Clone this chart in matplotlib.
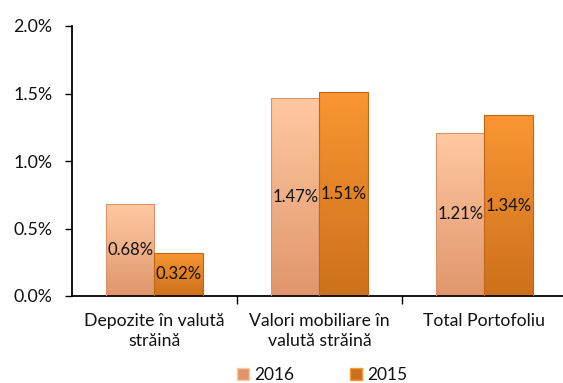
import numpy as np
import matplotlib.pyplot as plt
from matplotlib.colors import LinearSegmentedColormap
from matplotlib.patches import Patch

plt.rcParams['font.family'] = ['Lato', 'DejaVu Sans']

categories = ["Depozite în valută\nstrăină", "Valori mobiliare în\nvalută străină", "Total Portofoliu"]
series_names = ["2016", "2015"]
values_2016 = [0.68, 1.47, 1.21]
values_2015 = [0.32, 1.51, 1.34]
yticks = [0.0, 0.5, 1.0, 1.5, 2.0]

# gradient colours (top, bottom) and edge colour per series
grad_2016 = ("#FFC9A2", "#E0966C")
grad_2015 = ("#FA9633", "#CD701B")
edge_2016 = "#D9926A"
edge_2015 = "#C06618"

fig = plt.figure(figsize=(5.63, 3.83), dpi=100)
ax = fig.add_axes([72 / 563, (383 - 296) / 383, 495 / 563, 270 / 383])

x = np.arange(len(categories))
w = 0.295


def gradient_bars(xpos, vals, grad, edge):
    cmap = LinearSegmentedColormap.from_list("g", [grad[1], grad[0]])
    bars = ax.bar(xpos, vals, w, color="none", edgecolor=edge, linewidth=0.8, zorder=3)
    for b in bars:
        x0, y0 = b.get_x(), b.get_y()
        x1, y1 = x0 + b.get_width(), y0 + b.get_height()
        grad_img = np.linspace(0, 1, 256).reshape(-1, 1)
        im = ax.imshow(grad_img, extent=[x0, x1, y0, y1], origin="lower",
                       cmap=cmap, aspect="auto", zorder=2)
        im.set_clip_path(b)
    return bars


b1 = gradient_bars(x - w / 2, values_2016, grad_2016, edge_2016)
b2 = gradient_bars(x + w / 2, values_2015, grad_2015, edge_2015)

for bars, vals in ((b1, values_2016), (b2, values_2015)):
    for b, v in zip(bars, vals):
        ax.text(b.get_x() + b.get_width() / 2, v / 2, f"{v:.2f}%",
                ha="center", va="center", fontsize=12, color="#111111", zorder=4)

ax.set_xlim(-0.5, len(categories) - 0.5)
ax.set_ylim(0, 2.0)
ax.set_yticks(yticks)
ax.set_yticklabels([f"{t:.1f}%" for t in yticks], fontsize=12.8)
ax.tick_params(axis="y", direction="out", length=5, width=1, pad=9, labelcolor="#111111")

# category labels centred, tick marks on category boundaries
ax.set_xticks(x)
ax.set_xticklabels(categories, fontsize=12.7, linespacing=1.35, color="#111111")
ax.tick_params(axis="x", length=0, pad=12)
ax.set_xticks(np.arange(0.5, len(categories) - 0.5, 1), minor=True)
ax.tick_params(axis="x", which="minor", direction="out", length=6, width=1)

for s in ("top", "right"):
    ax.spines[s].set_visible(False)
for s in ("left", "bottom"):
    ax.spines[s].set_linewidth(1.3)
    ax.spines[s].set_color("black")

handles = [Patch(facecolor=grad_2016[1], edgecolor=grad_2016[0]),
           Patch(facecolor=grad_2015[1], edgecolor=grad_2015[0])]
fig.legend(handles, series_names, loc="center", bbox_to_anchor=(322 / 563, 1 - 375 / 383),
           ncol=2, frameon=False, fontsize=12.5, handlelength=0.7, handleheight=0.7,
           columnspacing=3.2, handletextpad=0.3, labelcolor="#111111")

fig.savefig("out.png", dpi=100)
